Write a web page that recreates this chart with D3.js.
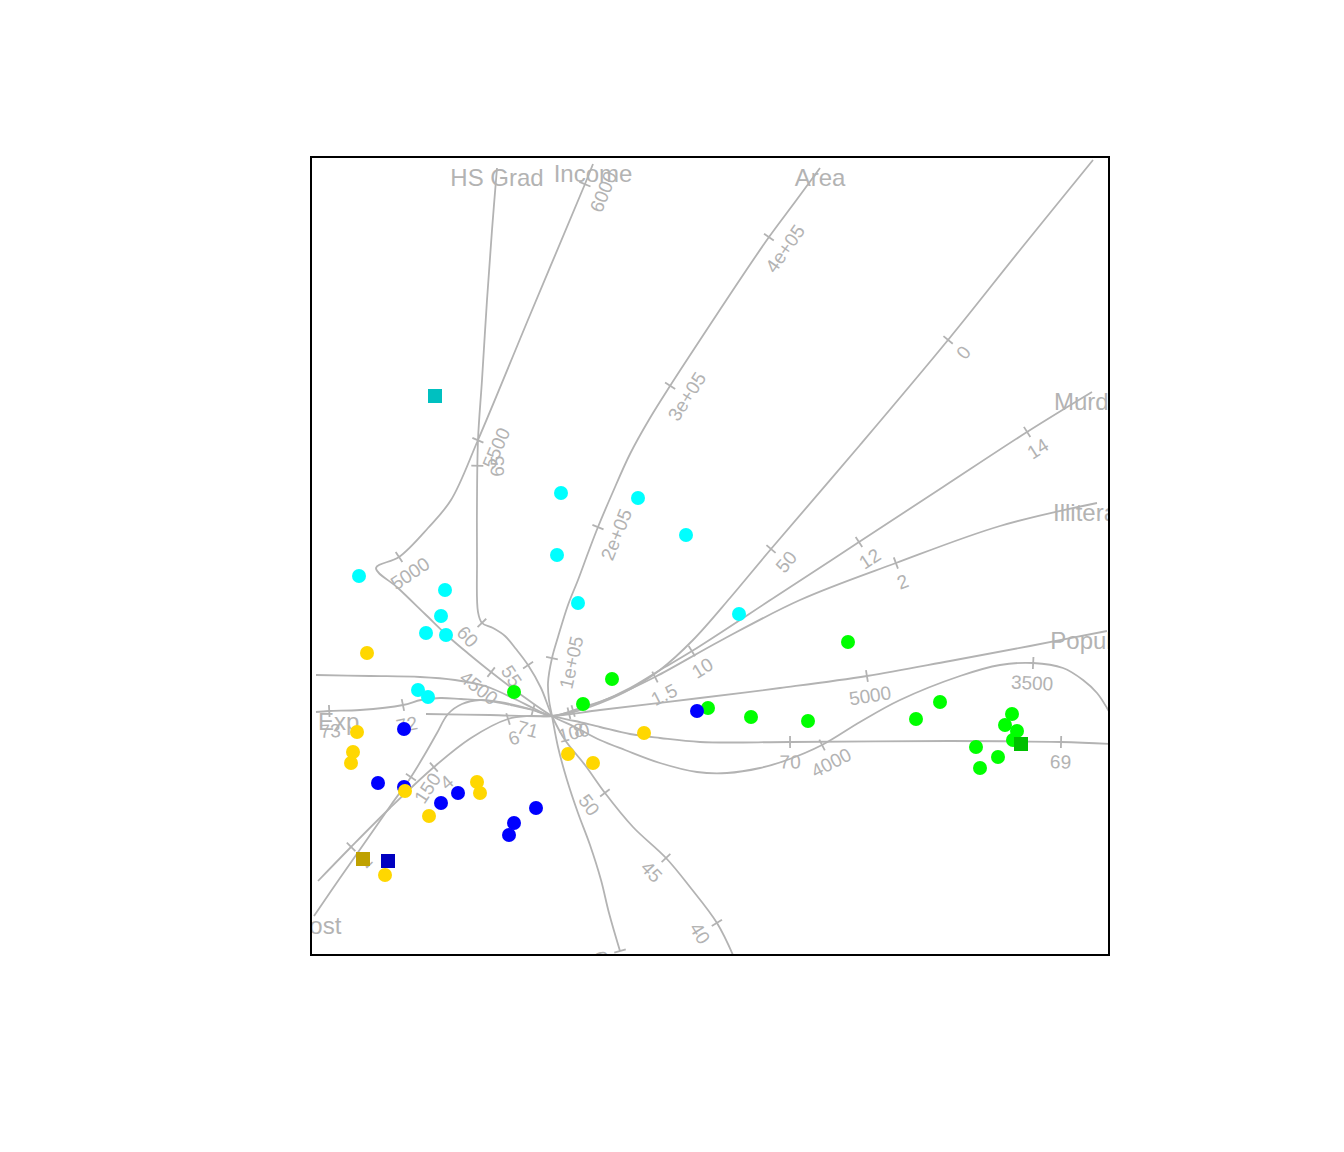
<!DOCTYPE html>
<html><head><meta charset="utf-8">
<script src="https://cdn.jsdelivr.net/npm/d3@7"></script>
<style>body{margin:0;background:#fff;} text{font-family:"Liberation Sans",Arial,Helvetica,sans-serif;}</style>
</head><body><svg id="chart" width="1344" height="1152"></svg>
<script>
// ---- axis (calibration curve) traces, ordered low end -> high end, in biplot units ----
const axisNames = ["HS Grad","Income","Area","Frost","Murder","Illiteracy","Population","Life Exp"];

const hsGradPath = [[0.23,-3.99],[0.07,-3.67],[-0.20,-3.31],[-0.44,-3.02],[-0.77,-2.71],[-1.05,-2.37],[-1.25,-2.09],[-1.45,-1.84],[-1.58,-1.60],[-1.69,-1.32],[-1.82,-1.09],[-1.94,-0.93],[-2.05,-0.80],[-2.17,-0.72],[-2.28,-0.67],[-2.32,-0.56],[-2.33,-0.04],[-2.33,0.56],[-2.32,1.16],[-2.28,1.76],[-2.23,2.56],[-2.18,3.26],[-2.13,3.88]];
const hsGradTicks = [[0.07,-3.67,"40"],[-0.44,-3.02,"45"],[-1.05,-2.37,"50"],[-1.83,-1.10,"55"],[-2.28,-0.67,"60"],[-2.33,0.90,"65"]];

const incomePath = [[4.03,-1.63],[3.97,-1.52],[3.87,-1.37],[3.73,-1.24],[3.53,-1.12],[3.23,-1.07],[2.90,-1.09],[2.50,-1.20],[1.90,-1.44],[1.50,-1.66],[1.12,-1.89],[0.77,-2.04],[0.50,-2.12],[0.17,-2.17],[-0.13,-2.16],[-0.50,-2.07],[-0.85,-1.94],[-1.10,-1.84],[-1.35,-1.71],[-1.58,-1.60],[-1.90,-1.38],[-2.19,-1.16],[-2.40,-0.99],[-2.60,-0.82],[-2.85,-0.58],[-3.12,-0.32],[-3.34,-0.12],[-3.11,-0.01],[-2.82,0.28],[-2.59,0.56],[-2.32,1.16],[-1.80,2.41],[-1.25,3.72],[-1.17,3.92]];
const incomeTicks = [[3.23,-1.07,"3500"],[1.12,-1.89,"4000"],[-2.19,-1.16,"4500"],[-3.11,-0.01,"5000"],[-2.32,1.16,"5500"],[-1.25,3.72,"6000"]];

const areaPath = [[-0.90,-3.95],[-1.01,-3.57],[-1.09,-3.24],[-1.20,-2.89],[-1.32,-2.57],[-1.43,-2.24],[-1.52,-1.91],[-1.58,-1.60],[-1.61,-1.44],[-1.62,-1.27],[-1.58,-1.02],[-1.52,-0.81],[-1.42,-0.49],[-1.32,-0.24],[-1.22,0.03],[-1.12,0.29],[-0.98,0.62],[-0.80,1.02],[-0.60,1.38],[-0.40,1.70],[-0.10,2.16],[0.25,2.69],[0.59,3.19],[0.85,3.54],[1.10,3.88]];
const areaTicks = [[-0.90,-3.95,"0"],[-1.58,-1.02,"1e+05"],[-1.12,0.29,"2e+05"],[-0.40,1.70,"3e+05"],[0.59,3.19,"4e+05"]];

const frostPath = [[3.83,3.96],[3.10,3.06],[2.38,2.16],[1.50,1.11],[0.61,0.07],[0.20,-0.42],[-0.17,-0.84],[-0.50,-1.14],[-0.85,-1.36],[-1.20,-1.51],[-1.40,-1.57],[-1.58,-1.60],[-1.80,-1.53],[-2.05,-1.47],[-2.30,-1.44],[-2.48,-1.48],[-2.62,-1.58],[-2.73,-1.77],[-2.85,-1.98],[-2.99,-2.21],[-3.19,-2.49],[-3.42,-2.82],[-3.70,-3.22],[-3.96,-3.60]];
const frostTicks = [[2.38,2.16,"0"],[0.61,0.07,"50"],[-1.41,-1.58,"100"],[-2.99,-2.21,"150"]];

const murderPath = [[-3.92,-3.25],[-3.59,-2.91],[-3.20,-2.52],[-2.76,-2.11],[-2.39,-1.82],[-2.02,-1.63],[-1.80,-1.60],[-1.58,-1.60],[-1.37,-1.55],[-1.10,-1.46],[-0.80,-1.32],[-0.50,-1.14],[-0.18,-0.95],[0.65,-0.41],[1.49,0.14],[2.33,0.69],[3.17,1.24],[3.82,1.64]];
const murderTicks = [[-3.59,-2.91,"2"],[-2.76,-2.11,"4"],[-2.02,-1.63,"6"],[-1.37,-1.55,"8"],[-0.18,-0.95,"10"],[1.49,0.14,"12"],[3.17,1.24,"14"]];

const illiteracyPath = [[-3.94,-1.19],[-3.40,-1.20],[-2.90,-1.21],[-2.55,-1.24],[-2.25,-1.30],[-1.93,-1.44],[-1.75,-1.53],[-1.58,-1.60],[-1.30,-1.52],[-1.00,-1.42],[-0.55,-1.21],[0.10,-0.85],[0.90,-0.44],[1.86,-0.07],[2.90,0.30],[3.87,0.53]];
const illiteracyTicks = [[-0.55,-1.21,"1.5"],[1.86,-0.07,"2"]];

const populationPath = [[-2.84,-1.58],[-2.20,-1.59],[-1.58,-1.60],[-1.10,-1.54],[-0.10,-1.42],[0.70,-1.32],[1.57,-1.20],[2.40,-1.05],[3.20,-0.90],[3.97,-0.75]];
const populationTicks = [[1.57,-1.20,"5000"]];

const lifeExpPath = [[4.03,-1.88],[3.51,-1.86],[2.40,-1.85],[0.80,-1.86],[-0.10,-1.86],[-0.50,-1.82],[-0.80,-1.78],[-1.10,-1.71],[-1.35,-1.65],[-1.58,-1.60],[-1.77,-1.54],[-1.99,-1.49],[-2.20,-1.45],[-2.49,-1.43],[-2.70,-1.42],[-2.89,-1.44],[-3.07,-1.49],[-3.50,-1.54],[-3.81,-1.55],[-3.94,-1.56]];
const lifeExpTicks = [[3.51,-1.86,"69"],[0.80,-1.86,"70"],[-1.77,-1.54,"71"],[-3.07,-1.49,"72"],[-3.81,-1.55,"73"]];

// ---- sample scores per group ----
const cyanPoints = [[-1.49,0.63],[-0.72,0.58],[-0.24,0.21],[-1.53,0.01],[-3.51,-0.20],[-2.65,-0.34],[-1.32,-0.47],[0.29,-0.58],[-2.69,-0.60],[-2.84,-0.77],[-2.64,-0.79],[-2.92,-1.34],[-2.82,-1.41]];
const greenPoints = [[-1.96,-1.36],[-1.27,-1.48],[-0.98,-1.23],[-0.02,-1.52],[0.41,-1.61],[0.98,-1.65],[1.38,-0.86],[2.06,-1.63],[2.30,-1.46],[3.02,-1.58],[2.95,-1.69],[3.07,-1.75],[3.03,-1.84],[2.66,-1.91],[2.88,-2.01],[2.70,-2.12]];
const bluePoints = [[-3.06,-1.73],[-3.32,-2.27],[-3.06,-2.31],[-2.69,-2.47],[-2.52,-2.37],[-1.74,-2.52],[-1.96,-2.67],[-2.01,-2.79],[-0.13,-1.55]];
const goldPoints = [[-3.43,-0.97],[-3.53,-1.76],[-3.57,-1.96],[-3.59,-2.07],[-3.05,-2.35],[-2.81,-2.60],[-2.33,-2.26],[-2.30,-2.37],[-3.25,-3.19],[-1.42,-1.98],[-1.17,-2.07],[-0.66,-1.77]];
// group means
const groupMeans = [[-2.75,1.60],[3.11,-1.88],[-3.22,-3.05],[-3.47,-3.03]];

// ---- styling ----
const gray = "#b3b3b3";
const pointColors = ["#00ffff","#00ff00","#0000ff","#ffd700"];
const meanColors = ["#00c0c0","#00c000","#0000c0","#bfa100"];

const axes = [
  {name:axisNames[0], path:hsGradPath, ticks:hsGradTicks},
  {name:axisNames[1], path:incomePath, ticks:incomeTicks},
  {name:axisNames[2], path:areaPath, ticks:areaTicks},
  {name:axisNames[3], path:frostPath, ticks:frostTicks},
  {name:axisNames[4], path:murderPath, ticks:murderTicks},
  {name:axisNames[5], path:illiteracyPath, ticks:illiteracyTicks},
  {name:axisNames[6], path:populationPath, ticks:populationTicks},
  {name:axisNames[7], path:lifeExpPath, ticks:lifeExpTicks}
];
const groups = [cyanPoints, greenPoints, bluePoints, goldPoints];

const svg = d3.select("#chart");
const X0=311, X1=1109, Y0=157, Y1=955;
const x = d3.scaleLinear().domain([-3.99,3.99]).range([X0,X1]);
const y = d3.scaleLinear().domain([-3.99,3.99]).range([Y1,Y0]);

svg.append("defs").append("clipPath").attr("id","clip")
  .append("rect").attr("x",X0).attr("y",Y0).attr("width",X1-X0).attr("height",Y1-Y0);

const g = svg.append("g").attr("clip-path","url(#clip)");
const line = d3.line().x(d=>x(d[0])).y(d=>y(d[1])).curve(d3.curveCatmullRom.alpha(0.5));

const gLines = g.append("g"), gTicks = g.append("g"), gLabels = g.append("g");

axes.forEach(ax=>{
  const p = gLines.append("path").attr("d",line(ax.path))
    .attr("fill","none").attr("stroke",gray).attr("stroke-width",1.8);
  const node = p.node();
  const L = node.getTotalLength();
  ax.ticks.forEach(t=>{
    const tx=x(t[0]), ty=y(t[1]);
    let best=0, bd=Infinity;
    for(let l=0;l<=L;l+=0.5){
      const pt=node.getPointAtLength(l);
      const d=(pt.x-tx)*(pt.x-tx)+(pt.y-ty)*(pt.y-ty);
      if(d<bd){bd=d;best=l;}
    }
    const a=node.getPointAtLength(Math.max(0,best-3));
    const b=node.getPointAtLength(Math.min(L,best+3));
    let dx=b.x-a.x, dy=b.y-a.y; const n=Math.hypot(dx,dy)||1; dx/=n; dy/=n;
    const c=node.getPointAtLength(best);
    let px=-dy, py=dx;
    if(py<0 || (Math.abs(py)<1e-6 && px<0)){px=-px;py=-py;}
    gTicks.append("line")
      .attr("x1",c.x-px*6).attr("y1",c.y-py*6).attr("x2",c.x+px*6).attr("y2",c.y+py*6)
      .attr("stroke",gray).attr("stroke-width",1.8);
    let ang=Math.atan2(dy,dx)*180/Math.PI;
    if(ang>90) ang-=180;
    if(ang<-90) ang+=180;
    gLabels.append("text")
      .attr("transform",`translate(${c.x+px*20},${c.y+py*20}) rotate(${ang})`)
      .attr("text-anchor","middle").attr("dominant-baseline","central")
      .attr("font-size",19).attr("fill",gray).text(t[2]);
  });
  const end = ax.path[ax.path.length-1];
  gLabels.append("text").attr("x",x(end[0])).attr("y",y(end[1])+18)
    .attr("text-anchor","middle").attr("font-size",24).attr("fill",gray).text(ax.name);
});

const gPts = g.append("g");
groups.forEach((pts,i)=>{
  gPts.selectAll(null).data(pts).enter().append("circle")
    .attr("cx",d=>x(d[0])).attr("cy",d=>y(d[1])).attr("r",7)
    .attr("fill",pointColors[i]);
});
g.append("g").selectAll("rect").data(groupMeans).enter().append("rect")
  .attr("x",d=>x(d[0])-7).attr("y",d=>y(d[1])-7).attr("width",14).attr("height",14)
  .attr("fill",(d,i)=>meanColors[i]);

svg.append("rect").attr("x",X0).attr("y",Y0).attr("width",X1-X0).attr("height",Y1-Y0)
  .attr("fill","none").attr("stroke","#000").attr("stroke-width",2);
</script></body></html>
